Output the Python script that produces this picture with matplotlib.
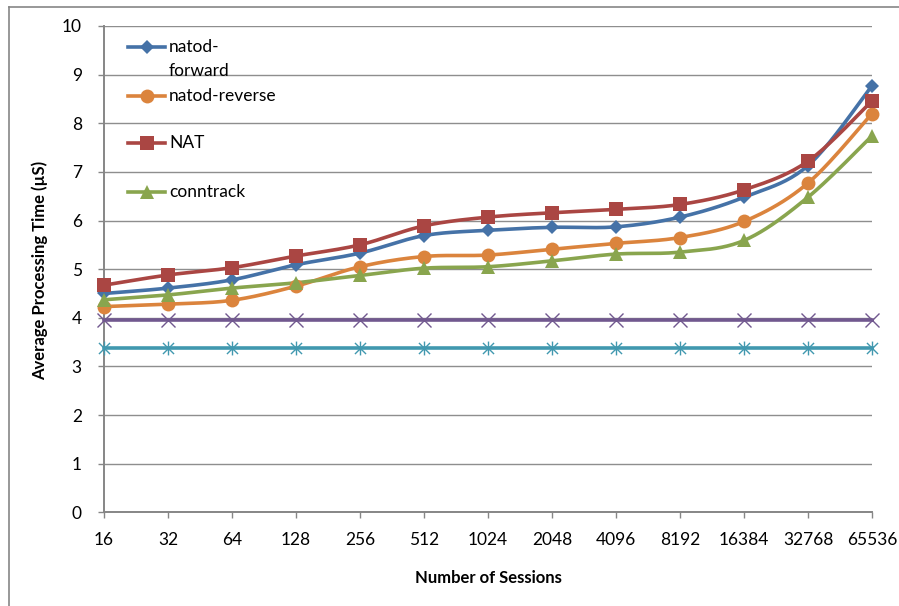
import matplotlib
matplotlib.use('Agg')
import matplotlib.pyplot as plt
import numpy as np
from matplotlib.lines import Line2D
from matplotlib.path import Path

plt.rcParams['font.family'] = ['Lato', 'DejaVu Sans']

# Session counts and measured processing times (microseconds)
sessions = ['16', '32', '64', '128', '256', '512', '1024', '2048', '4096', '8192', '16384', '32768', '65536']
natod_forward = [4.50, 4.61, 4.78, 5.09, 5.33, 5.69, 5.80, 5.86, 5.87, 6.07, 6.48, 7.13, 8.77]
natod_reverse = [4.23, 4.28, 4.36, 4.65, 5.05, 5.26, 5.29, 5.41, 5.53, 5.65, 5.98, 6.77, 8.20]
nat = [4.67, 4.88, 5.03, 5.27, 5.50, 5.89, 6.07, 6.16, 6.23, 6.33, 6.63, 7.22, 8.46]
conntrack = [4.37, 4.47, 4.61, 4.72, 4.87, 5.02, 5.05, 5.17, 5.31, 5.35, 5.59, 6.48, 7.74]
baseline_a = [3.96] * len(sessions)
baseline_b = [3.37] * len(sessions)

BLUE = '#4572A7'
ORANGE = '#DB843D'
RED = '#AA4643'
GREEN = '#89A54E'
PURPLE = '#71588F'
TEAL = '#4198AF'
AXIS_GREY = '#868686'
GRID_GREY = '#8e8e8e'

FS = 12.5

# asterisk marker: an x with a vertical bar through it
star = Path([(-1, -1), (1, 1), (-1, 1), (1, -1), (0, -1.25), (0, 1.25)],
            [Path.MOVETO, Path.LINETO, Path.MOVETO, Path.LINETO, Path.MOVETO, Path.LINETO])


def smooth(xs, ys, steps=24):
    # Catmull-Rom style bezier through every point
    pts = np.column_stack([xs, ys]).astype(float)
    ext = np.vstack([pts[0], pts, pts[-1]])
    t = np.linspace(0, 1, steps)[:, None]
    out = [pts[:1]]
    for i in range(len(pts) - 1):
        p0 = ext[i + 1]
        p3 = ext[i + 2]
        c1 = p0 + (ext[i + 2] - ext[i]) / 6.0
        c2 = p3 - (ext[i + 3] - ext[i + 1]) / 6.0
        seg = ((1 - t) ** 3) * p0 + 3 * ((1 - t) ** 2) * t * c1 + 3 * (1 - t) * t ** 2 * c2 + t ** 3 * p3
        out.append(seg[1:])
    out = np.vstack(out)
    return out[:, 0], out[:, 1]


fig = plt.figure(figsize=(8.99, 6.06), dpi=100)
ax = fig.add_axes([104 / 899, 93.7 / 606, 768 / 899, 486.3 / 606])

x = np.arange(len(sessions))

series = [
    ('natod-forward', natod_forward, BLUE, 'D', 7),
    ('natod-reverse', natod_reverse, ORANGE, 'o', 10),
    ('NAT', nat, RED, 's', 9.5),
    ('conntrack', conntrack, GREEN, '^', 10.5),
]

for name, vals, color, mk, ms in series:
    sx, sy = smooth(x, vals)
    ax.plot(sx, sy, color=color, lw=2.6, solid_capstyle='round', clip_on=False, zorder=3)
    ax.plot(x, vals, linestyle='none', marker=mk, ms=ms, color=color,
            markeredgewidth=0, clip_on=False, zorder=4)

ax.plot(x, baseline_a, color=PURPLE, lw=2.6, marker='x', ms=10, markeredgewidth=1.0,
        clip_on=False, zorder=3)
ax.plot(x, baseline_b, color=TEAL, lw=2.6, marker=star, ms=10, markeredgewidth=1.0,
        markerfacecolor='none', clip_on=False, zorder=3)

ax.set_xlim(0, len(sessions) - 1)
ax.set_ylim(0, 10)
ax.set_xticks(x)
ax.set_xticklabels(sessions)
ax.set_yticks(range(0, 11))

for side in ['top', 'right']:
    ax.spines[side].set_visible(False)
for side in ['left', 'bottom']:
    ax.spines[side].set_color(AXIS_GREY)
    ax.spines[side].set_linewidth(1.4)

ax.yaxis.grid(True, color=GRID_GREY, lw=1.0)
ax.set_axisbelow(True)
ax.tick_params(axis='both', direction='out', length=4, width=1, color=AXIS_GREY,
               labelsize=FS, labelcolor='black')
ax.tick_params(axis='y', pad=12)
ax.tick_params(axis='x', pad=10)

fig.text(488 / 899, 1 - 578 / 606, 'Number of Sessions', ha='center', va='center',
         fontsize=12, fontweight='bold')
fig.text(40 / 899, 1 - 270 / 606, 'Average Processing Time (\u00b5S)', ha='center', va='center',
         rotation=90, fontsize=12, fontweight='bold')

# legend block inside the plot area
ax_w = 768.0
ax_h = 486.3
legend_rows = [47.3, 95.7, 143.3, 191.7]
for (name, vals, color, mk, ms), row in zip(series, legend_rows):
    yf = (512.3 - row) / ax_h
    ax.add_line(Line2D([24 / ax_w, 61 / ax_w], [yf, yf], transform=ax.transAxes,
                       color=color, lw=2.6, clip_on=False, zorder=5))
    ax.add_line(Line2D([42.5 / ax_w], [yf], transform=ax.transAxes, marker=mk, ms=ms,
                       color=color, markeredgewidth=0, clip_on=False, zorder=6))
    label = 'natod-' if name == 'natod-forward' else name
    ax.text(65 / ax_w, yf, label, transform=ax.transAxes, ha='left', va='center',
            fontsize=FS, zorder=6)
ax.text(65 / ax_w, (512.3 - 70.5) / ax_h, 'forward', transform=ax.transAxes,
        ha='left', va='center', fontsize=FS, zorder=6)

# chart area border
fig.add_artist(Line2D([8.5 / 899, 8.5 / 899], [0, 1 - 6.5 / 606], color=AXIS_GREY, lw=1.2))
fig.add_artist(Line2D([8.5 / 899, 1], [1 - 6.5 / 606, 1 - 6.5 / 606], color=AXIS_GREY, lw=1.2))

fig.savefig('out.png', dpi=100)
